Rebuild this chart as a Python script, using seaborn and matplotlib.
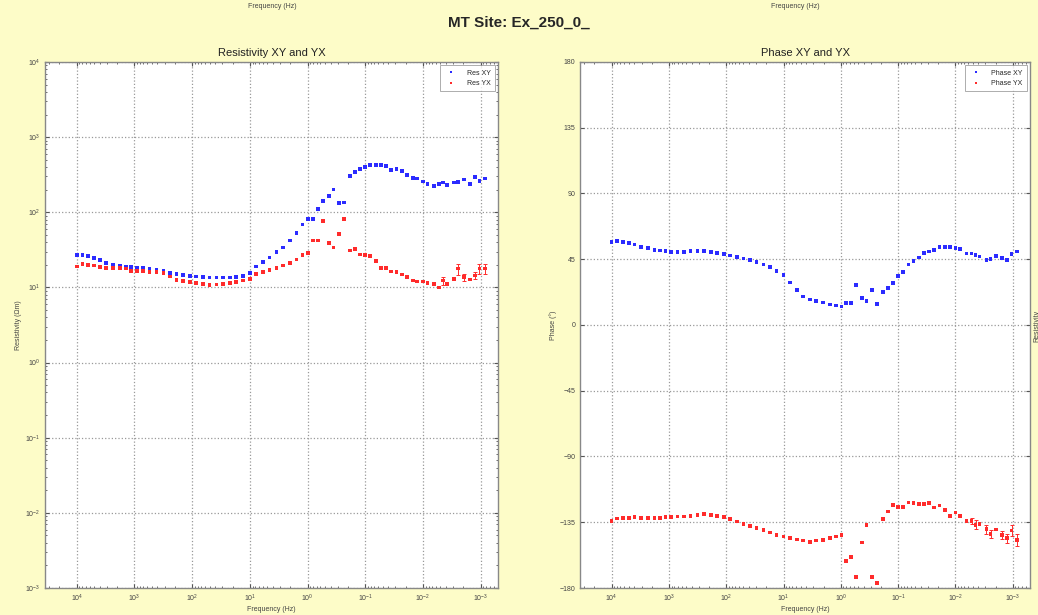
import numpy as np
import pandas as pd
import seaborn as sns
import matplotlib
matplotlib.use("Agg")
import matplotlib.pyplot as plt
from matplotlib.ticker import LogLocator, FixedLocator, NullFormatter

# frequencies (Hz), high -> low
freq_hz = [10000, 7943, 6310, 5012, 3981, 3090, 2344, 1778, 1413, 1148,
           912, 708, 550, 417, 316, 245, 186, 145, 110, 85.1,
           64.6, 50.1, 38.0, 29.5, 22.4, 17.4, 13.2, 10.0, 7.76, 5.89,
           4.57, 3.47, 2.69, 2.04, 1.55, 1.23, 0.977, 0.813, 0.661, 0.537,
           0.427, 0.355, 0.288, 0.234, 0.186, 0.151, 0.123, 0.102, 0.0832, 0.0661,
           0.0537, 0.0437, 0.0355, 0.0288, 0.0234, 0.0191, 0.0151, 0.0126, 0.0100, 0.00832,
           0.00646, 0.00525, 0.00447, 0.00380, 0.00288, 0.00245, 0.00195, 0.00155, 0.00126, 0.00105,
           0.000851]

res_xy = [27, 27, 26, 24.5, 23, 21, 19.8, 19.3, 19, 18.8,
          18.5, 18, 17.5, 17, 16.5, 15.5, 15, 14.5, 14.2, 14,
          13.8, 13.6, 13.5, 13.5, 13.6, 13.8, 14.3, 15.5, 19, 22,
          25, 29.5, 34, 42, 53, 69, 82, 82, 110, 140,
          163, 200, 133, 135, 302, 344, 380, 400, 423, 423,
          423, 410, 363, 380, 353, 315, 286, 282, 258, 240,
          222, 240, 250, 229, 250, 254, 273, 240, 292, 263,
          282]

res_yx = [19, 20.7, 20, 19.5, 18.6, 18.3, 18.3, 18.1, 17.8, 16.6,
          16.6, 16.6, 16.2, 16, 15.5, 14, 12.6, 12.1, 11.8, 11.4,
          11.2, 10.7, 10.9, 11.2, 11.4, 11.8, 12.4, 13, 15.2, 16.2,
          17.2, 18.3, 19.5, 21, 23.5, 27, 29, 42, 42, 77,
          39, 34, 51, 82, 31, 32.6, 27.5, 27, 26, 22.4,
          18.3, 18.3, 16.3, 16, 14.9, 13.7, 12.4, 12, 12, 11.5,
          11, 10, 12.4, 11.2, 13, 17.8, 13.7, 12.8, 14.4, 17.8,
          17.8]

res_yx_err = [0] * 62 + [1.5, 0, 0, 3, 1.5, 0, 1.5, 2.5, 2.5]

phase_xy = [57, 57.5, 57, 56, 55, 53.5, 52.5, 51.5, 51, 50.5,
            50, 50, 50, 50.5, 50.5, 50.5, 50, 49.5, 48.5, 47.5,
            46.5, 45.5, 44.5, 43, 41.5, 39.5, 37, 34, 29, 24,
            19.5, 17.5, 16.5, 15.3, 14, 13.3, 12.6, 15, 15, 27.4,
            18.3, 16.5, 24, 14.2, 22.8, 25.1, 28.6, 33.6, 36.5, 41.5,
            44, 46.3, 49.5, 50.2, 51.4, 53.2, 53.6, 53.2, 52.5, 52,
            49, 49, 48, 46.8, 44.5, 45, 47.3, 45.7, 44.5, 48.4,
            50.2]

phase_yx = [-134, -132.5, -132, -132, -131.5, -132, -132, -132, -132, -131.5,
            -131.5, -131, -131, -130.5, -130, -129.5, -130, -130.5, -131.5, -133,
            -134.5, -136, -137.5, -139, -140.5, -142, -143.5, -144.8, -146, -146.8,
            -147.5, -148.3, -147.6, -147, -146, -144.8, -143.7, -161.5, -159, -172.7,
            -148.9, -136.8, -172.7, -176.8, -133, -127.6, -123.2, -124.7, -124.7, -121.4,
            -121.6, -122.5, -122.7, -122, -125, -123.6, -126.6, -130.5, -128.4, -130.7,
            -134, -134, -136.8, -136, -139.8, -143, -140, -143.7, -146, -140.7,
            -147]

phase_yx_err = [0] * 61 + [2, 3, 0, 3, 3, 0, 3, 3, 4, 4]

BLUE = "#2b2bff"
RED = "#ff2b2b"
BG = "#fdfcc8"

sns.set_style("ticks")
plt.rcParams["font.family"] = ["Liberation Sans", "DejaVu Sans"]

res_df = pd.DataFrame({
    "freq": freq_hz * 2,
    "value": res_xy + res_yx,
    "series": ["Res XY"] * len(freq_hz) + ["Res YX"] * len(freq_hz),
})
phase_df = pd.DataFrame({
    "freq": freq_hz * 2,
    "value": phase_xy + phase_yx,
    "series": ["Phase XY"] * len(freq_hz) + ["Phase YX"] * len(freq_hz),
})

fig = plt.figure(figsize=(10.38, 6.15), dpi=100, facecolor=BG)
ax1 = fig.add_axes([0.0434, 0.0439, 0.4364, 0.8553])
ax2 = fig.add_axes([0.5588, 0.0439, 0.4335, 0.8553])


def style_axis(ax):
    ax.set_facecolor("white")
    ax.set_xscale("log")
    ax.set_xlim(10 ** 4.55, 10 ** -3.3)
    ax.xaxis.set_major_locator(FixedLocator([1e4, 1e3, 1e2, 1e1, 1e0, 1e-1, 1e-2, 1e-3]))
    ax.xaxis.set_minor_locator(LogLocator(base=10, subs=np.arange(2, 10), numticks=20))
    ax.xaxis.set_minor_formatter(NullFormatter())
    ax.grid(True, which="major", linestyle=":", color="#999999", linewidth=0.9)
    ax.tick_params(which="both", direction="in", top=True, right=True,
                   labelsize=5, colors="#555555", labelcolor="#444444")
    ax.tick_params(which="major", length=3)
    ax.tick_params(which="minor", length=1.6)
    for sp in ax.spines.values():
        sp.set_color("#888888")
        sp.set_linewidth(1.0)
    ax.set_xlabel("Frequency (Hz)", fontsize=5, color="#444444", labelpad=1)


# resistivity panel
sns.scatterplot(data=res_df, x="freq", y="value", hue="series",
                palette={"Res XY": BLUE, "Res YX": RED},
                marker="s", s=7, linewidth=0, ax=ax1)
err_mask = np.array(res_yx_err) > 0
ax1.errorbar(np.array(freq_hz)[err_mask], np.array(res_yx)[err_mask],
             yerr=np.array(res_yx_err)[err_mask], fmt="none", ecolor=RED,
             elinewidth=0.7, capsize=1.2, capthick=0.7)
ax1.set_yscale("log")
ax1.set_ylim(1e-3, 1e4)
ax1.yaxis.set_minor_locator(LogLocator(base=10, subs=np.arange(2, 10), numticks=20))
ax1.yaxis.set_minor_formatter(NullFormatter())
style_axis(ax1)
ax1.set_ylabel("Resistivity (\u03a9m)", fontsize=5, color="#444444", labelpad=2)
ax1.set_title("Resistivity XY and YX", fontsize=8, color="#222222", pad=4)
leg = ax1.legend(loc="upper right", fontsize=5, frameon=True, fancybox=False,
                 edgecolor="#888888", markerscale=0.7, handletextpad=1.2,
                 borderpad=0.6, labelspacing=0.5, title=None)
leg.get_frame().set_linewidth(0.6)

# phase panel
sns.scatterplot(data=phase_df, x="freq", y="value", hue="series",
                palette={"Phase XY": BLUE, "Phase YX": RED},
                marker="s", s=7, linewidth=0, ax=ax2)
err_mask = np.array(phase_yx_err) > 0
ax2.errorbar(np.array(freq_hz)[err_mask], np.array(phase_yx)[err_mask],
             yerr=np.array(phase_yx_err)[err_mask], fmt="none", ecolor=RED,
             elinewidth=0.7, capsize=1.2, capthick=0.7)
ax2.set_ylim(-180, 180)
ax2.set_yticks(np.arange(-180, 181, 45))
style_axis(ax2)
ax2.set_ylabel("Phase (\u00b0)", fontsize=5, color="#444444", labelpad=2)
ax2.set_title("Phase XY and YX", fontsize=8, color="#222222", pad=4)
leg = ax2.legend(loc="upper right", fontsize=5, frameon=True, fancybox=False,
                 edgecolor="#888888", markerscale=0.7, handletextpad=1.2,
                 borderpad=0.6, labelspacing=0.5, title=None)
leg.get_frame().set_linewidth(0.6)

fig.suptitle("MT Site: Ex_250_0_", x=0.5, y=0.975, fontsize=11, fontweight="bold")
# partial labels left over from neighbouring plots
fig.text(272 / 1038, 1 - 6 / 615, "Frequency (Hz)", fontsize=5, color="#444444", ha="center", va="center")
fig.text(795 / 1038, 1 - 6 / 615, "Frequency (Hz)", fontsize=5, color="#444444", ha="center", va="center")
fig.text(1033 / 1038, 0.47, "Resistivity", fontsize=5, color="#444444", rotation=90, ha="left", va="center")

fig.savefig("out.png", dpi=100, facecolor=BG)
